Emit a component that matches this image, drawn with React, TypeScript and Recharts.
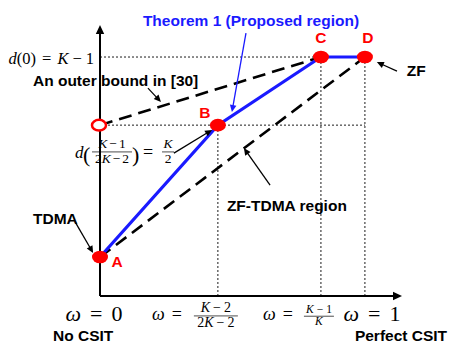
import React from 'react';
import {
  ComposedChart,
  Line,
  Scatter,
  XAxis,
  YAxis,
  ReferenceLine,
  ReferenceDot,
} from 'recharts';

// ---------- data ----------
// omega (CSIT quality) tick positions: 0, (K-2)/(2K-2), (K-1)/K, 1
const OMEGA_TICKS = [0, 0.445, 0.834, 1];
// DoF tick positions: d((K-1)/(2K-2)) = K/2 , d(0) = K-1
const DOF_TICKS = [0.715, 1];

// corner points of the proposed region (Theorem 1)
const POINT_NAMES = ['A', 'B', 'C', 'D'];
const POINT_X = [0, 0.445, 0.834, 1];
const POINT_Y = [0.163, 0.715, 1, 1];

// outer bound in [30]
const OUTER_X = [0, 0.834];
const OUTER_Y = [0.715, 1];

// ZF-TDMA region
const ZFTDMA_X = [0, 1];
const ZFTDMA_Y = [0.163, 1];

// open circle on the DoF axis
const OPEN_X = [0];
const OPEN_Y = [0.715];

const X_MAX = 1.14;
const Y_MAX = 1.134;

// ---------- styling ----------
const W = 457;
const H = 357;
const RED = '#ff0000';
const BLUE = '#1a1aff';
const SANS = '"Liberation Sans", Arial, Helvetica, sans-serif';
const SERIF = '"Liberation Serif", "Times New Roman", serif';

const blueData = POINT_X.map((x, i) => ({ x, y: POINT_Y[i] }));
const pointData = POINT_X.map((x, i) => ({ x, y: POINT_Y[i], name: POINT_NAMES[i] }));
const outerData = OUTER_X.map((x, i) => ({ x, y: OUTER_Y[i] }));
const zftdmaData = ZFTDMA_X.map((x, i) => ({ x, y: ZFTDMA_Y[i] }));
const openData = OPEN_X.map((x, i) => ({ x, y: OPEN_Y[i] }));

// label offsets for letters (styling)
const LETTER_OFFSET: Record<string, [number, number]> = {
  A: [17, 10],
  B: [-13, -7],
  C: [0, -14],
  D: [3, -14],
};

// annotation arrows (data coordinates)
const ARROWS = [
  { from: [0.181, 0.87], to: [0.23, 0.812], color: '#000' },
  { from: [0.279, 0.598], to: [0.423, 0.695], color: '#000' },
  { from: [0.551, 1.1], to: [0.498, 0.77], color: BLUE },
  { from: [1.121, 0.941], to: [1.045, 0.979], color: '#000' },
  { from: [0.642, 0.464], to: [0.543, 0.619], color: '#000' },
  { from: [-0.094, 0.31], to: [-0.026, 0.18], color: '#000' },
];

const NOTES = [
  { text: 'Theorem 1 (Proposed region)', x: 0.162, y: 1.13, color: BLUE },
  { text: 'An outer bound in [30]', x: -0.253, y: 0.879, color: '#000' },
  { text: 'TDMA', x: -0.253, y: 0.301, color: '#000' },
  { text: 'ZF', x: 1.158, y: 0.921, color: '#000' },
  { text: 'ZF-TDMA region', x: 0.479, y: 0.356, color: '#000' },
];

function makeArrow(color: string, sw: number, hl: number, hw: number) {
  return (p: any) => {
    const { x1, y1, x2, y2 } = p;
    const dx = x2 - x1;
    const dy = y2 - y1;
    const len = Math.hypot(dx, dy) || 1;
    const ux = dx / len;
    const uy = dy / len;
    const bx = x2 - ux * hl;
    const by = y2 - uy * hl;
    const px = -uy * hw;
    const py = ux * hw;
    return (
      <g>
        <line x1={x1} y1={y1} x2={bx + ux} y2={by + uy} stroke={color} strokeWidth={sw} />
        <polygon
          points={`${x2},${y2} ${bx + px},${by + py} ${bx - px},${by - py}`}
          fill={color}
        />
      </g>
    );
  };
}

const Frac = ({ cx, top, num, den, size, barHalf, gap }: any) => (
  <g fontFamily={SERIF} fontSize={size} fill="#000">
    <text x={cx} y={top} textAnchor="middle">{num}</text>
    <line x1={cx - barHalf} x2={cx + barHalf} y1={top + size * 0.28} y2={top + size * 0.28} stroke="#000" strokeWidth={0.7} />
    <text x={cx} y={top + (gap ?? size * 1.15)} textAnchor="middle">{den}</text>
  </g>
);

const renderXTick = (index: number) => (props: any) => {
  const x = props.cx;
  const y = props.cy;
  const bold = { fontFamily: SANS, fontWeight: 700, fontSize: 15.5, fill: '#000' } as any;
  if (index === 0 || index === 3) {
    const big = index === 0 ? '0' : '1';
    return (
      <g>
        <text x={x + (index === 0 ? -6 : 7)} y={y + 25} textAnchor="middle" fontFamily={SERIF} fontSize={22} fill="#000">
          <tspan fontStyle="italic">ω</tspan>
          <tspan dx={9}>=</tspan>
          <tspan dx={9}>{big}</tspan>
        </text>
        <text x={x + (index === 0 ? -47 : -10)} y={y + 45} {...bold}>
          {index === 0 ? 'No CSIT' : 'Perfect CSIT'}
        </text>
      </g>
    );
  }
  if (index === 1) {
    return (
      <g>
        <text x={x - 36} y={y + 24} textAnchor="end" fontFamily={SERIF} fontSize={18} fill="#000">
          <tspan fontStyle="italic">ω</tspan>
          <tspan dx={7}>=</tspan>
        </text>
        <Frac
          cx={x - 2}
          top={y + 16}
          size={14}
          gap={15}
          barHalf={22}
          num={<><tspan fontStyle="italic">K</tspan><tspan dx={3}>−</tspan><tspan dx={3}>2</tspan></>}
          den={<><tspan>2</tspan><tspan fontStyle="italic">K</tspan><tspan dx={3}>−</tspan><tspan dx={3}>2</tspan></>}
        />
      </g>
    );
  }
  return (
    <g>
      <text x={x - 28} y={y + 24} textAnchor="end" fontFamily={SERIF} fontSize={18} fill="#000">
        <tspan fontStyle="italic">ω</tspan>
        <tspan dx={7}>=</tspan>
      </text>
      <Frac
        cx={x - 2}
        top={y + 17}
        size={11.5}
        gap={12}
        barHalf={15}
        num={<><tspan fontStyle="italic">K</tspan><tspan dx={3}>−</tspan><tspan dx={3}>1</tspan></>}
        den={<tspan fontStyle="italic">K</tspan>}
      />
    </g>
  );
};

const renderYTick = (index: number) => (props: any) => {
  const x = props.cx;
  const y = props.cy;
  if (index === 1) {
    return (
      <text x={x - 6} y={y + 7} textAnchor="end" fontFamily={SERIF} fontSize={16.5} fill="#000">
        <tspan fontStyle="italic">d</tspan>
        <tspan>(0)</tspan>
        <tspan dx={6}>=</tspan>
        <tspan dx={6} fontStyle="italic">K</tspan>
        <tspan dx={4}>−</tspan>
        <tspan dx={4}>1</tspan>
      </text>
    );
  }
  return (
    <g fill="#000">
      <text x={x - 25} y={y + 33} fontFamily={SERIF} fontSize={17} fontStyle="italic">d</text>
      <text x={x - 17} y={y + 37} fontFamily={SERIF} fontSize={22}>(</text>
      <Frac
        cx={x + 12}
        top={y + 23}
        size={13.5}
        gap={15}
        barHalf={20}
        num={<><tspan fontStyle="italic">K</tspan><tspan dx={2}>−</tspan><tspan dx={2}>1</tspan></>}
        den={<><tspan>2</tspan><tspan fontStyle="italic">K</tspan><tspan dx={2}>−</tspan><tspan dx={2}>2</tspan></>}
      />
      <text x={x + 32} y={y + 37} fontFamily={SERIF} fontSize={22}>)</text>
      <text x={x + 43} y={y + 33} fontFamily={SERIF} fontSize={18}>=</text>
      <Frac
        cx={x + 68}
        top={y + 23}
        size={13.5}
        gap={15}
        barHalf={6}
        num={<tspan fontStyle="italic">K</tspan>}
        den={<tspan>2</tspan>}
      />
    </g>
  );
};

const PointShape = (props: any) => {
  const { cx, cy, payload } = props;
  const off = LETTER_OFFSET[payload.name] || [0, 0];
  return (
    <g>
      <ellipse cx={cx} cy={cy} rx={8} ry={6.3} fill={RED} />
      <text
        x={cx + off[0]}
        y={cy + off[1]}
        textAnchor="middle"
        fontFamily={SANS}
        fontWeight={700}
        fontSize={15.5}
        fill={RED}
      >
        {payload.name}
      </text>
    </g>
  );
};

const OpenShape = (props: any) => (
  <ellipse cx={props.cx - 1} cy={props.cy} rx={7} ry={5.3} fill="#fff" stroke={RED} strokeWidth={2.5} />
);

const axisArrow = makeArrow('#000', 2, 9, 4.2);
const noteArrowBlack = makeArrow('#000', 1.3, 7, 3.3);
const noteArrowBlue = makeArrow(BLUE, 1.3, 7, 3.3);

export default function App() {
  const dotted = { stroke: '#000', strokeWidth: 0.9, strokeDasharray: '2 2', ifOverflow: 'visible' as const };
  return (
    <div style={{ position: 'absolute', left: 0, top: 0, width: W, height: H, background: '#fff' }}>
      <ComposedChart
        width={W}
        height={H}
        margin={{ top: 25, right: 55, bottom: 61, left: 100 }}
      >
        <XAxis dataKey="x" type="number" domain={[0, X_MAX]} hide />
        <YAxis dataKey="y" type="number" domain={[0, Y_MAX]} hide />

        {/* dotted guide lines */}
        <ReferenceLine segment={[{ x: 0, y: POINT_Y[2] }, { x: POINT_X[3], y: POINT_Y[3] }]} {...dotted} />
        <ReferenceLine segment={[{ x: 0, y: POINT_Y[1] }, { x: POINT_X[3], y: POINT_Y[1] }]} {...dotted} />
        <ReferenceLine segment={[{ x: POINT_X[1], y: 0 }, { x: POINT_X[1], y: POINT_Y[1] }]} {...dotted} />
        <ReferenceLine segment={[{ x: POINT_X[2], y: 0 }, { x: POINT_X[2], y: POINT_Y[2] }]} {...dotted} />
        <ReferenceLine segment={[{ x: POINT_X[3], y: 0 }, { x: POINT_X[3], y: POINT_Y[3] }]} {...dotted} />

        {/* axes with arrow heads */}
        <ReferenceLine segment={[{ x: 0, y: 0 }, { x: X_MAX, y: 0 }]} ifOverflow="visible" shape={axisArrow} />
        <ReferenceLine segment={[{ x: 0, y: 0 }, { x: 0, y: Y_MAX }]} ifOverflow="visible" shape={axisArrow} />

        {/* axis tick labels */}
        {OMEGA_TICKS.map((t, i) => (
          <ReferenceDot key={'xt' + i} x={t} y={0} r={0} ifOverflow="visible" shape={renderXTick(i)} />
        ))}
        {DOF_TICKS.map((t, i) => (
          <ReferenceDot key={'yt' + i} x={0} y={t} r={0} ifOverflow="visible" shape={renderYTick(i)} />
        ))}

        <Line
          data={outerData}
          dataKey="y"
          type="linear"
          stroke="#000"
          strokeWidth={2.6}
          strokeDasharray="13 7"
          dot={false}
          activeDot={false}
          isAnimationActive={false}
        />
        <Line
          data={zftdmaData}
          dataKey="y"
          type="linear"
          stroke="#000"
          strokeWidth={2.6}
          strokeDasharray="13 7"
          dot={false}
          activeDot={false}
          isAnimationActive={false}
        />
        <Line
          data={blueData}
          dataKey="y"
          type="linear"
          stroke={BLUE}
          strokeWidth={3.2}
          dot={false}
          activeDot={false}
          isAnimationActive={false}
        />

        {ARROWS.map((a, i) => (
          <ReferenceLine
            key={'ar' + i}
            segment={[{ x: a.from[0], y: a.from[1] }, { x: a.to[0], y: a.to[1] }]}
            ifOverflow="visible"
            shape={a.color === BLUE ? noteArrowBlue : noteArrowBlack}
          />
        ))}

        {NOTES.map((n, i) => (
          <ReferenceDot
            key={'nt' + i}
            x={n.x}
            y={n.y}
            r={0}
            ifOverflow="visible"
            shape={(p: any) => (
              <text x={p.cx} y={p.cy} fontFamily={SANS} fontWeight={700} fontSize={15.5} fill={n.color}>
                {n.text}
              </text>
            )}
          />
        ))}

        <Scatter data={openData} dataKey="y" shape={<OpenShape />} isAnimationActive={false} />
        <Scatter data={pointData} dataKey="y" shape={<PointShape />} isAnimationActive={false} />
      </ComposedChart>
    </div>
  );
}
